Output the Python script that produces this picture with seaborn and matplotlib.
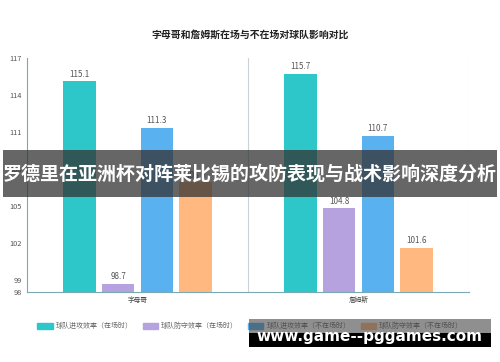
import pandas as pd
import matplotlib.pyplot as plt
import matplotlib.patches as mpatches
import seaborn as sns

players = ["字母哥", "詹姆斯"]
series = ["球队进攻效率（在场时）", "球队防守效率（在场时）",
          "球队进攻效率（不在场时）", "球队防守效率（不在场时）"]
off_on = [115.1, 115.7]
def_on = [98.7, 104.8]
off_off = [111.3, 110.7]
def_off = [106.9, 101.6]
colors = ["#2ec7c9", "#b6a2de", "#5ab1ef", "#ffb980"]
yticks = [98, 99, 102, 105, 108, 111, 114, 117]

rows = []
for s, vals in zip(series, [off_on, def_on, off_off, def_off]):
    for p, v in zip(players, vals):
        rows.append({"player": p, "series": s, "value": v})
df = pd.DataFrame(rows)

sns.set_style("white")
plt.rcParams["font.family"] = ["Noto Sans CJK SC", "DejaVu Sans"]

fig = plt.figure(figsize=(5, 3.62), dpi=100)
ax = fig.add_axes([0.054, 0.193, 0.884, 0.647])

sns.barplot(data=df, x="player", y="value", hue="series", hue_order=series,
            palette=colors, width=0.70, gap=0.17, ax=ax, legend=False,
            saturation=1, edgecolor="none")

ax.set_ylim(98, 117)
ax.set_xlim(-0.5, 1.5)
ax.set_yticks(yticks)
ax.set_yticklabels([str(t) for t in yticks], fontsize=5.3, color="#555555")
ax.tick_params(axis="y", length=2.5, width=0.6, color="#7aa9b5", pad=1.5)
ax.tick_params(axis="x", length=0, labelsize=4.8, labelcolor="#444444", pad=3)
ax.set_xlabel("")
ax.set_ylabel("")

for side in ["top", "right"]:
    ax.spines[side].set_visible(False)
ax.spines["left"].set_color("#7aa9b5")
ax.spines["left"].set_linewidth(0.8)
ax.spines["bottom"].set_color("#7aa9b5")
ax.spines["bottom"].set_linewidth(0.8)
for xv in [0.5, 1.5]:
    ax.axvline(xv, color="#c8d3d8", linewidth=0.8, zorder=0)

for cont in ax.containers:
    ax.bar_label(cont, fmt="%.1f", fontsize=5.8, color="#555555", padding=2)

fig.text(0.5, 0.903, "字母哥和詹姆斯在场与不在场对球队影响对比", ha="center",
         va="center", fontsize=7.1, fontweight="bold", color="#222222")

# legend
handles = [mpatches.Patch(color=c, label=s) for c, s in zip(colors, series)]
fig.legend(handles=handles, loc="center", bbox_to_anchor=(0.5, 0.099), ncol=4,
           frameon=False, fontsize=5, handlelength=2.2, handleheight=1.0,
           handletextpad=0.4, columnspacing=1.5, labelcolor="#666666")

# overlay banner
fig.patches.append(mpatches.Rectangle((0.006, 1 - 197 / 362), 0.988, 47 / 362,
                                      transform=fig.transFigure, facecolor="#333333",
                                      alpha=0.75, edgecolor="none", zorder=7))
fig.text(0.5, 1 - 174 / 362, "罗德里在亚洲杯对阵莱比锡的攻防表现与战术影响深度分析",
         ha="center", va="center", fontsize=13.7, fontweight="bold", color="white", zorder=8)

# watermark
fig.patches.append(mpatches.Rectangle((249 / 500, 1 - 333 / 362), 242 / 500, 14 / 362,
                                      transform=fig.transFigure, facecolor="#444444",
                                      alpha=0.6, edgecolor="none", zorder=7))
fig.patches.append(mpatches.Rectangle((249 / 500, 1 - 347 / 362), 242 / 500, 14 / 362,
                                      transform=fig.transFigure, facecolor="black",
                                      edgecolor="none", zorder=7))
fig.text(369 / 500, 1 - 336 / 362, "www.game--pggames.com", ha="center", va="center",
         fontsize=11, fontweight="bold", color="white", family="DejaVu Sans", zorder=8)

fig.savefig("out.png", dpi=100)
